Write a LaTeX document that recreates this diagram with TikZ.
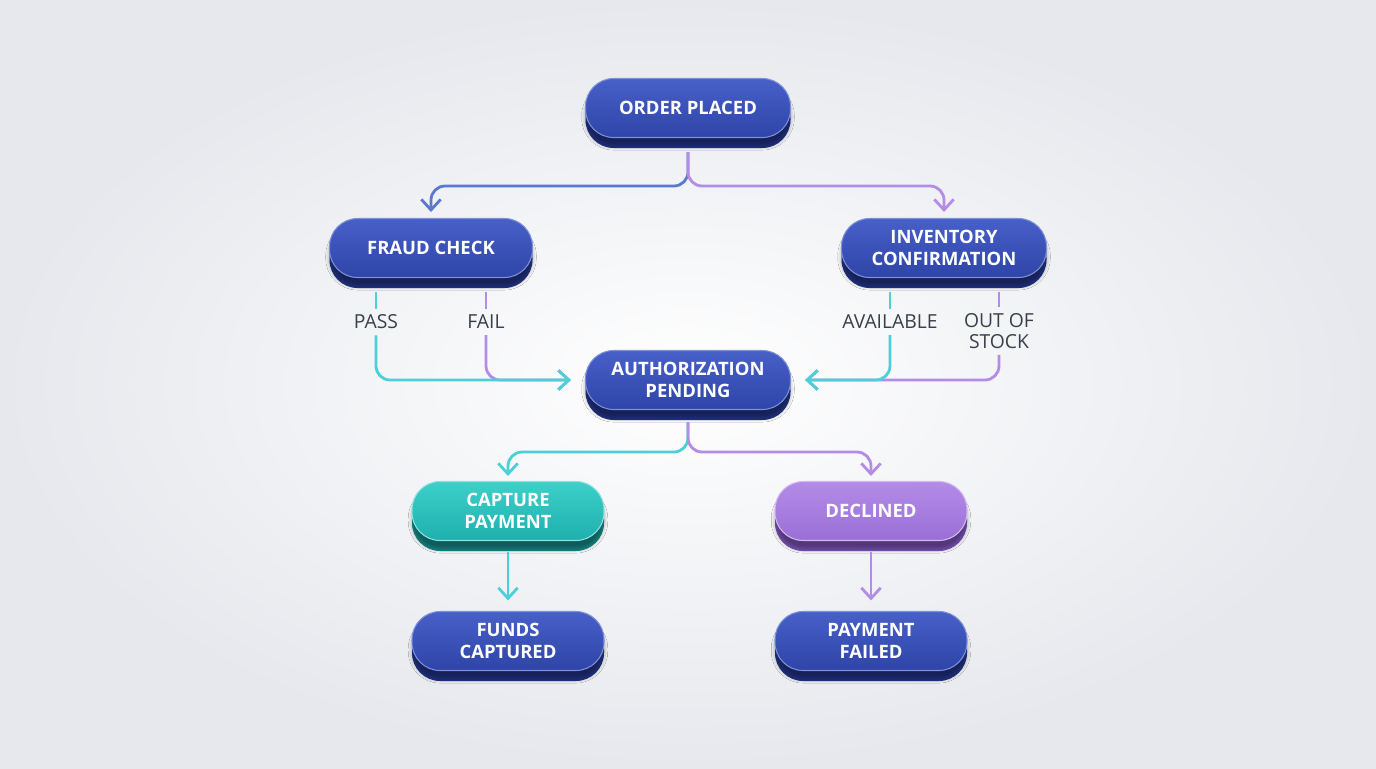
\documentclass[tikz,border=0pt]{standalone}
\usepackage{fontspec}
\setmainfont{Open Sans}
\usetikzlibrary{shadows.blur,arrows.meta}
\definecolor{bgc}{HTML}{E6E8ED}
\definecolor{nb}{HTML}{2E44A8}
\definecolor{nbl}{HTML}{4760C8}
\definecolor{nbd}{HTML}{233489}
\definecolor{tl}{HTML}{1FB0AE}
\definecolor{tll}{HTML}{3DCFC8}
\definecolor{tld}{HTML}{178E8C}
\definecolor{pp}{HTML}{9A6FD6}
\definecolor{ppl}{HTML}{B48BE8}
\definecolor{ppd}{HTML}{7E55BC}
\definecolor{lb}{HTML}{5A78D0}
\definecolor{lt}{HTML}{4CCFD6}
\definecolor{lp}{HTML}{B48BE6}
\definecolor{txt}{HTML}{3A3F4C}
\begin{document}
\begin{tikzpicture}[x=0.02cm,y=-0.02cm,
  base/.style={rounded corners=16pt,minimum width=#1*0.02cm,minimum height=1.18cm,align=center,text=white,font=\bfseries\fontsize{10.5}{12.5}\selectfont},
  sh/.style={blur shadow={shadow xshift=0pt,shadow yshift=-5pt,shadow blur steps=8,shadow opacity=35,shadow scale=1.0}},
  bn/.style={base=#1,top color=nbl,bottom color=nb,draw=nbl!70!white,line width=0.6pt,sh},
  tn/.style={base=#1,top color=tll,bottom color=tl,draw=tll!60!white,line width=0.6pt,sh},
  pn/.style={base=#1,top color=ppl,bottom color=pp,draw=ppl!60!white,line width=0.6pt,sh},
  ar/.style={-{Straight Barb[length=6pt,width=11pt]},line width=1.6pt,rounded corners=8pt},
  ln/.style={line width=1.6pt,rounded corners=8pt},
  lab/.style={font=\fontsize{11}{12}\selectfont,text=txt,align=center}]
\useasboundingbox (0,0) rectangle (1376,768);
\shade[inner color=white,outer color=bgc] (0,0) rectangle (1376,768);
% 3D bases
\foreach \x/\y/\w/\c in {688/118/205/nbd,431/258/203/nbd,944/258/205/nbd,688/390/205/nbd,508/521/192/tld,871/521/192/ppd,508/651/192/nbd,871/651/192/nbd}
  \fill[\c,rounded corners=16pt] (\x-\w/2,\y-28) rectangle (\x+\w/2,\y+30);
\node[bn=205] (op) at (688,108) {ORDER PLACED};
\node[bn=203] (fc) at (431,248) {FRAUD CHECK};
\node[bn=205] (ic) at (944,248) {INVENTORY\\CONFIRMATION};
\node[bn=205] (ap) at (688,380) {AUTHORIZATION\\PENDING};
\node[tn=192] (cp) at (508,511) {CAPTURE\\PAYMENT};
\node[pn=192] (dc) at (871,511) {DECLINED};
\node[bn=192] (fcap) at (508,641) {FUNDS\\CAPTURED};
\node[bn=192] (pf) at (871,641) {PAYMENT\\FAILED};
% order placed split
\coordinate (s1) at (688,152);
\draw[ar,lb] (s1) |- (560,186) -| (431,212);
\draw[ar,lp] (s1) |- (820,186) -| (944,212);
% fraud check
\node[lab] (pass) at (376,322) {PASS};
\node[lab] (fail) at (486,322) {FAIL};
\draw[ln,lt] (376,292) -- (pass.north);
\draw[ln,lp] (486,292) -- (fail.north);
\draw[ar,lp] (fail.south) |- ([xshift=-8pt]ap.west);
\draw[ar,lt] (pass.south) |- ([xshift=-8pt]ap.west);
% inventory
\node[lab] (av) at (890,322) {AVAILABLE};
\node[lab] (oos) at (999,331) {OUT OF\\STOCK};
\draw[ln,lt] (890,292) -- (av.north);
\draw[ln,lp] (999,292) -- (oos.north);
\draw[ar,lp] (oos.south) |- ([xshift=8pt]ap.east);
\draw[ar,lt] (av.south) |- ([xshift=8pt]ap.east);
% auth split
\coordinate (s2) at (688,422);
\draw[ar,lt] (s2) |- (600,452) -| (508,476);
\draw[ar,lp] (s2) |- (780,452) -| (871,476);
\draw[ar,lt] (508,552) -- ([yshift=6pt]fcap.north);
\draw[ar,lp] (871,552) -- ([yshift=6pt]pf.north);
\end{tikzpicture}
\end{document}
